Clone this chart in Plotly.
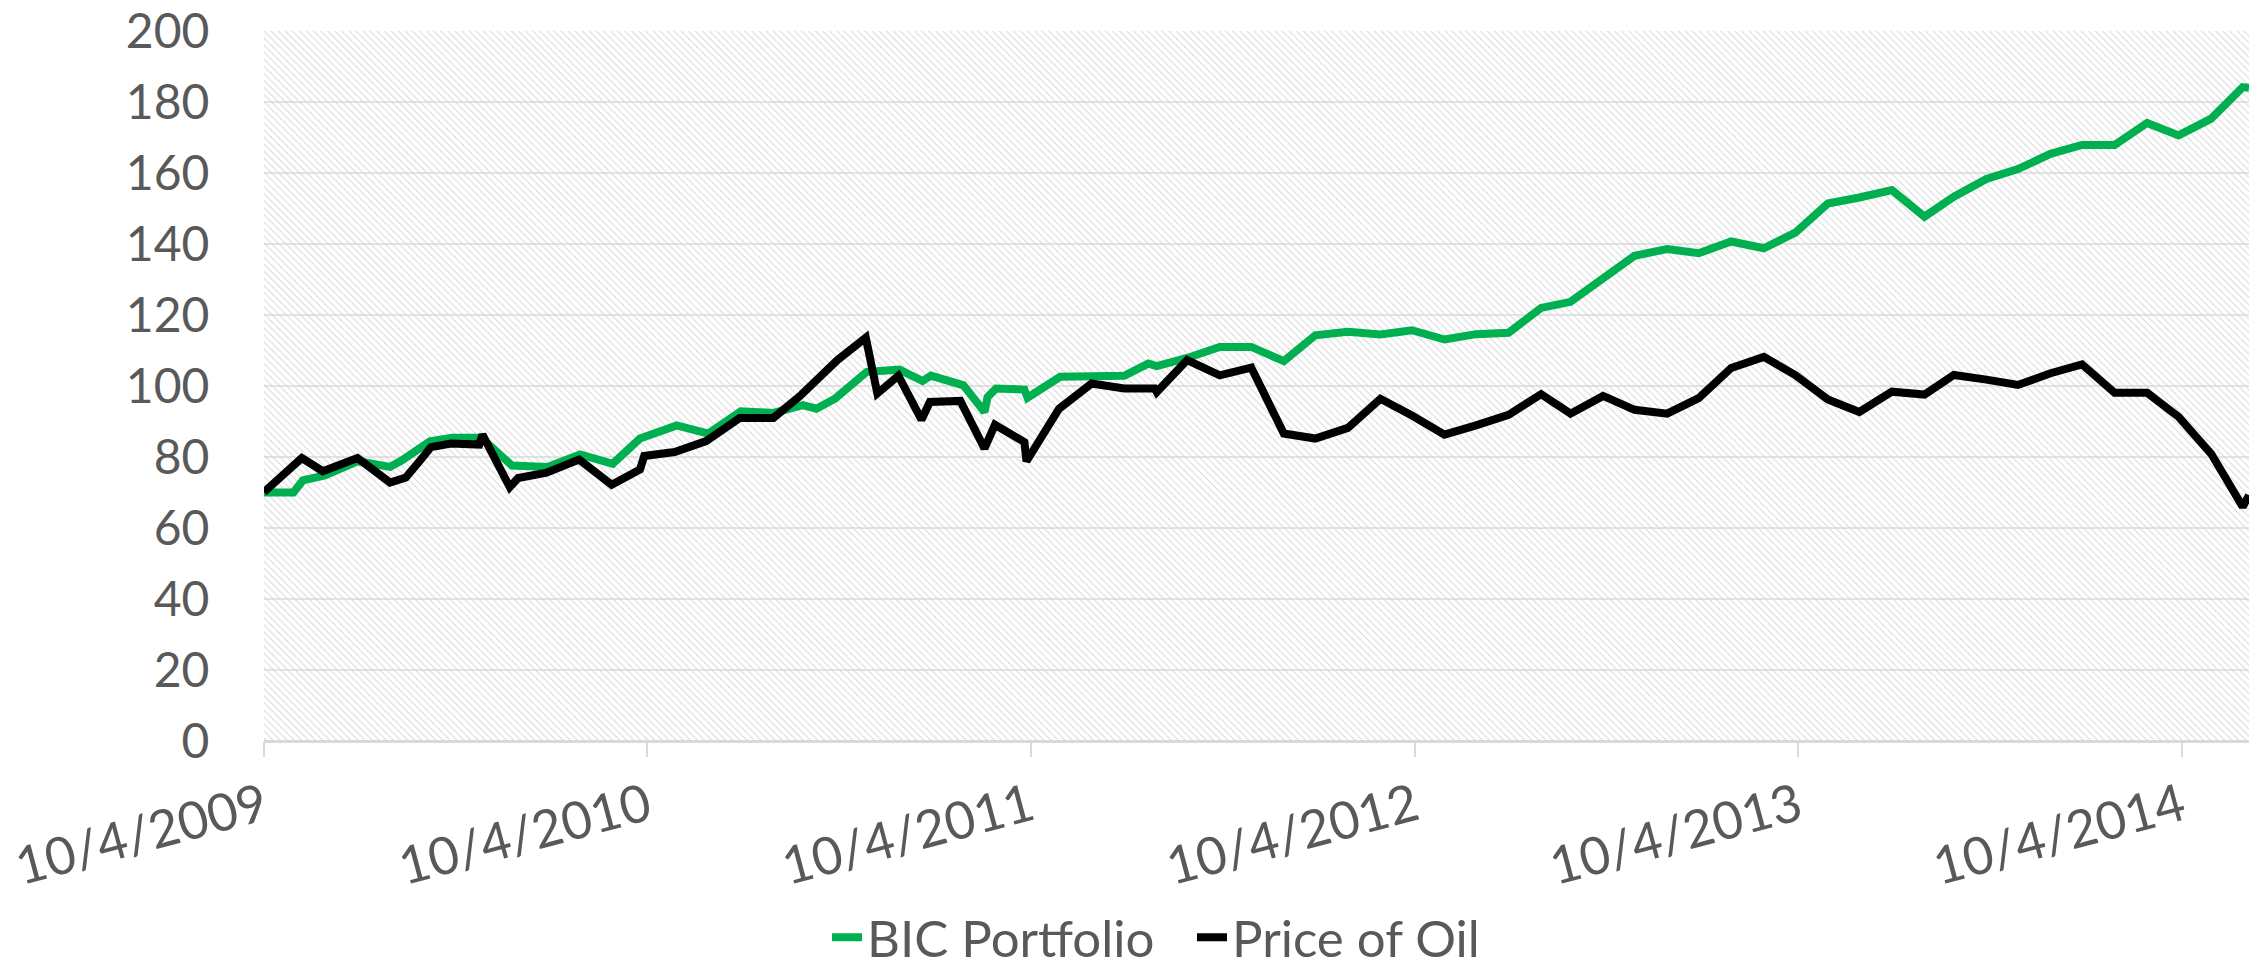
import plotly.graph_objects as go
import pandas as pd

# ---- data ----
bic_dates = [
    "2009-10-04", "2009-11-01", "2009-11-10", "2009-12-01", "2010-01-01", "2010-02-01",
    "2010-02-12", "2010-03-11", "2010-04-01", "2010-04-29", "2010-05-28", "2010-07-01",
    "2010-08-01", "2010-09-01", "2010-09-27", "2010-11-01", "2010-12-01", "2011-01-01",
    "2011-02-01", "2011-03-01", "2011-03-14", "2011-04-01", "2011-05-01", "2011-06-01",
    "2011-06-23", "2011-07-01", "2011-08-01", "2011-08-21", "2011-08-24", "2011-09-01",
    "2011-09-28", "2011-10-01", "2011-11-01", "2011-12-01", "2012-01-01", "2012-01-24",
    "2012-02-01", "2012-03-01", "2012-04-01", "2012-05-01", "2012-06-01", "2012-07-01",
    "2012-08-01", "2012-09-01", "2012-10-01", "2012-11-01", "2012-12-01", "2013-01-01",
    "2013-02-01", "2013-03-01", "2013-04-01", "2013-05-01", "2013-06-01", "2013-07-01",
    "2013-08-01", "2013-09-01", "2013-10-01", "2013-11-01", "2013-12-01", "2014-01-01",
    "2014-02-01", "2014-03-01", "2014-04-01", "2014-05-01", "2014-06-01", "2014-07-01",
    "2014-08-01", "2014-09-01", "2014-10-01", "2014-11-01", "2014-12-01", "2014-12-07",
]
bic_values = [
    70.0, 70.0, 73.4, 74.8, 78.8, 77.2,
    79.0, 84.4, 85.4, 85.4, 77.6, 77.2,
    80.7, 78.1, 85.2, 88.9, 86.6, 92.9,
    92.4, 94.6, 93.6, 96.5, 104.0, 104.6,
    101.4, 102.9, 100.2, 92.7, 96.9, 99.3,
    99.0, 96.7, 102.6, 102.8, 102.9, 106.3,
    105.6, 107.9, 111.0, 111.0, 107.0, 114.3,
    115.3, 114.5, 115.7, 113.1, 114.6, 115.0,
    122.0, 123.7, 130.1, 136.7, 138.6, 137.4,
    140.7, 138.8, 143.2, 151.4, 153.1, 155.2,
    147.7, 153.3, 158.3, 161.1, 165.4, 167.9,
    167.9, 174.1, 170.6, 175.3, 184.2, 184.0,
]

oil_dates = [
    "2009-10-04", "2009-11-09", "2009-11-29", "2010-01-01", "2010-02-01", "2010-02-16",
    "2010-03-03", "2010-03-12", "2010-03-31", "2010-04-27", "2010-04-30", "2010-05-26",
    "2010-06-03", "2010-06-30", "2010-07-31", "2010-08-31", "2010-09-27", "2010-10-01",
    "2010-10-30", "2010-11-29", "2010-12-31", "2011-02-01", "2011-02-26", "2011-03-15",
    "2011-04-03", "2011-04-30", "2011-05-11", "2011-05-31", "2011-06-22", "2011-06-30",
    "2011-07-29", "2011-08-21", "2011-08-31", "2011-09-28", "2011-09-30", "2011-10-31",
    "2011-12-01", "2012-01-01", "2012-01-30", "2012-02-01", "2012-03-01", "2012-04-01",
    "2012-05-01", "2012-06-01", "2012-07-01", "2012-08-01", "2012-09-01", "2012-10-01",
    "2012-11-01", "2012-12-01", "2013-01-01", "2013-02-01", "2013-03-01", "2013-04-01",
    "2013-05-01", "2013-06-01", "2013-07-01", "2013-08-01", "2013-09-01", "2013-10-01",
    "2013-11-01", "2013-12-01", "2014-01-01", "2014-02-01", "2014-03-01", "2014-04-01",
    "2014-05-01", "2014-06-01", "2014-07-01", "2014-08-01", "2014-09-01", "2014-10-01",
    "2014-11-01", "2014-12-01", "2014-12-07",
]
oil_values = [
    70.1, 79.7, 76.0, 79.7, 72.8, 74.2,
    79.5, 82.8, 83.8, 83.5, 86.3, 71.5,
    74.1, 75.6, 79.3, 72.2, 76.5, 80.3,
    81.4, 84.5, 91.0, 91.0, 97.1, 102.1,
    107.3, 113.6, 97.9, 102.9, 90.5, 95.5,
    95.8, 82.4, 89.1, 84.2, 78.8, 93.6,
    100.7, 99.3, 99.3, 98.3, 107.3, 103.0,
    105.2, 86.6, 85.2, 88.2, 96.4, 91.7,
    86.3, 88.9, 91.9, 97.7, 92.2, 97.2,
    93.3, 92.2, 96.6, 105.1, 108.2, 103.1,
    96.2, 92.7, 98.4, 97.6, 103.1, 101.8,
    100.3, 103.6, 106.1, 98.1, 98.1, 91.3,
    80.9, 66.0, 69.2,
]

tick_dates = ["2009-10-04", "2010-10-04", "2011-10-04", "2012-10-04", "2013-10-04", "2014-10-04"]
tick_labels = ["10/4/2009", "10/4/2010", "10/4/2011", "10/4/2012", "10/4/2013", "10/4/2014"]

x_start = "2009-10-04"
x_end = "2014-12-07"
y_max = 200

FONT = "Lato"
TXT = "#595959"

fig = go.Figure()

# hatched plot-area background (Excel pattern fill)
t0 = pd.Timestamp(x_start)
t1 = pd.Timestamp(x_end)
mid = t0 + (t1 - t0) / 2
span_ms = (t1 - t0).total_seconds() * 1000
fig.add_trace(go.Bar(
    x=[mid], y=[y_max], width=[span_ms],
    marker=dict(color="rgba(0,0,0,0)", line=dict(width=0),
                pattern=dict(shape="\\", fgcolor="#d6d6d6", bgcolor="rgba(0,0,0,0)",
                             size=5, solidity=0.2, fillmode="replace")),
    showlegend=False, hoverinfo="skip",
))

fig.add_trace(go.Scatter(
    x=bic_dates, y=bic_values, mode="lines", name="BIC Portfolio",
    line=dict(color="#00B050", width=8),
))
fig.add_trace(go.Scatter(
    x=oil_dates, y=oil_values, mode="lines", name="Price of Oil",
    line=dict(color="#000000", width=8),
))

fig.update_layout(
    width=2264, height=969,
    margin=dict(l=264, r=15, t=31, b=228, autoexpand=False),
    paper_bgcolor="white", plot_bgcolor="white",
    font=dict(family=FONT, color=TXT, size=48),
    bargap=0,
    showlegend=True,
    legend=dict(orientation="h", xref="paper", x=0.4675, xanchor="center",
                yref="paper", y=-0.277, yanchor="middle",
                font=dict(family=FONT, size=51, color=TXT),
                itemwidth=30, entrywidth=320, bgcolor="rgba(0,0,0,0)", tracegroupgap=0),
    xaxis=dict(
        type="date", range=[x_start, x_end],
        tickmode="array", tickvals=tick_dates, ticktext=tick_labels,
        tickangle=-15, showgrid=False,
        ticks="outside", ticklen=15, tickwidth=2, tickcolor="#d9d9d9",
        showline=False, zeroline=False, automargin=False,
        ticklabeloverflow="allow",
        tickfont=dict(family=FONT, size=52, color=TXT),
    ),
    yaxis=dict(
        range=[0, y_max], dtick=20, tick0=0,
        showgrid=True, gridcolor="#e3e3e3", gridwidth=2,
        zeroline=True, zerolinecolor="#d9d9d9", zerolinewidth=3,
        ticks="outside", ticklen=44, tickcolor="rgba(0,0,0,0)",
        showline=False, automargin=False,
        ticklabeloverflow="allow",
        tickfont=dict(family=FONT, size=48, color=TXT),
    ),
)

fig.write_html("out.html", config={"displayModeBar": False},
               post_script="document.body.style.margin='0';document.body.style.overflow='hidden';")
